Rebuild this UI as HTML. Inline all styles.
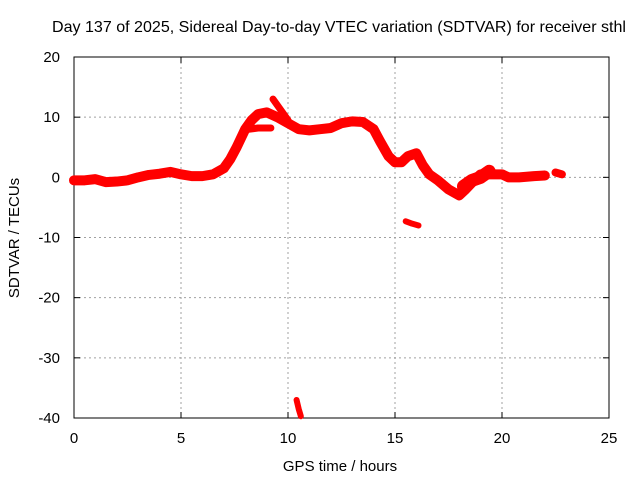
<!DOCTYPE html>
<html><head><meta charset="utf-8"><style>
body{margin:0;background:#fff;}
svg{display:block;font-family:"Liberation Sans",sans-serif;}
</style></head><body>
<svg id="chart" width="640" height="480">
<rect width="640" height="480" fill="#fff"/>
<text x="339" y="32" font-size="16" text-anchor="middle" textLength="574" lengthAdjust="spacingAndGlyphs">Day 137 of 2025, Sidereal Day-to-day VTEC variation (SDTVAR) for receiver sthl</text>
<g id="grid"></g>
<g id="axes"></g>
<g id="marks"></g>
<text x="340" y="471" font-size="15" text-anchor="middle">GPS time / hours</text>
<text x="19" y="238" font-size="15" text-anchor="middle" transform="rotate(-90 19 238)">SDTVAR / TECUs</text>
</svg>
<script>
const xTicks=[0,5,10,15,20,25];
const yTicks=[20,10,0,-10,-20,-30,-40];
const mainHours=[0,0.5,1,1.5,2,2.5,3,3.5,4,4.5,5,5.5,6,6.5,7,7.3,7.6,8,8.3,8.6,9,9.5,10,10.5,11,11.5,12,12.5,13,13.5,14,14.3,14.7,15,15.3,15.6,16,16.3,16.6,17,17.5,18,18.3,18.7,19,19.5,20,20.3,20.8,21.5,22];
const mainValues=[-0.5,-0.5,-0.3,-0.8,-0.7,-0.5,0,0.4,0.6,0.9,0.5,0.2,0.2,0.5,1.5,3,5,8,9.5,10.5,10.8,10,9,8,7.8,8,8.2,9,9.3,9.2,8,6,3.5,2.5,2.5,3.5,4,2,0.5,-0.5,-2,-3,-2,-0.5,0.5,0.5,0.5,0,0,0.2,0.3];
const branchHours=[8.2,8.6,9.2];
const branchValues=[8,8.2,8.2];
const spikeHours=[9.3,9.7,10];
const spikeValues=[13,11,9.5];
const blobHours=[18.2,18.6,19,19.4];
const blobValues=[-1.5,-0.5,0,1];
const tailHours=[22.5,22.8];
const tailValues=[0.8,0.5];
const out1Hours=[15.5,15.8,16.1];
const out1Values=[-7.3,-7.7,-8];
const out2Hours=[10.4,10.5,10.6];
const out2Values=[-37,-38.5,-39.7];

const X0=74,X1=609,Y0=57,Y1=418;
const xs=h=>X0+h/25*(X1-X0);
const ys=v=>Y0+(20-v)/60*(Y1-Y0);
const NS="http://www.w3.org/2000/svg";
const grid=document.getElementById('grid'),axes=document.getElementById('axes'),marks=document.getElementById('marks');
function mk(tag,at,parent){const e=document.createElementNS(NS,tag);for(const k in at)e.setAttribute(k,at[k]);parent.appendChild(e);return e;}
xTicks.forEach(t=>{
  const x=xs(t);
  if(t>0&&t<25){const g=mk('line',{x1:x,x2:x,y1:Y0,y2:Y1,stroke:'#a0a0a0','stroke-dasharray':'2,3'},grid);
  
  }
  const l=mk('text',{x:x,y:Y1+25,'font-size':15,'text-anchor':'middle'},axes);l.textContent=t;
  
  
  mk('line',{x1:x,x2:x,y1:Y1,y2:Y1-6,stroke:'#000'},axes);
  mk('line',{x1:x,x2:x,y1:Y0,y2:Y0+6,stroke:'#000'},axes);
});
yTicks.forEach(t=>{
  const y=ys(t);
  if(t<20&&t>-40){const g=mk('line',{x1:X0,x2:X1,y1:y,y2:y,stroke:'#a0a0a0','stroke-dasharray':'2,3'},grid);
  
  }
  const l=mk('text',{x:X0-14,y:y+5,'font-size':15,'text-anchor':'end'},axes);l.textContent=t;
  
  
  mk('line',{x1:X0,x2:X0+6,y1:y,y2:y,stroke:'#000'},axes);
  mk('line',{x1:X1,x2:X1-6,y1:y,y2:y,stroke:'#000'},axes);
});
const fr=mk('rect',{x:X0,y:Y0,width:X1-X0,height:Y1-Y0,fill:'none',stroke:'#000'},axes);


function series(hs,vs,name,w){
  const p=mk('polyline',{points:hs.map((h,i)=>xs(h)+','+ys(vs[i])).join(' '),fill:'none',stroke:'#ff0000','stroke-width':w,'stroke-linejoin':'round','stroke-linecap':'round'},marks);
  
  
}
series(mainHours,mainValues,'sdtvar-main-trace',10);
series(branchHours,branchValues,'sdtvar-branch',7);
series(spikeHours,spikeValues,'sdtvar-spike',7);
series(blobHours,blobValues,'sdtvar-blob',13);
series(tailHours,tailValues,'sdtvar-tail',8);
series(out1Hours,out1Values,'sdtvar-outlier-1',6);
series(out2Hours,out2Values,'sdtvar-outlier-2',6);
</script>
</body></html>
